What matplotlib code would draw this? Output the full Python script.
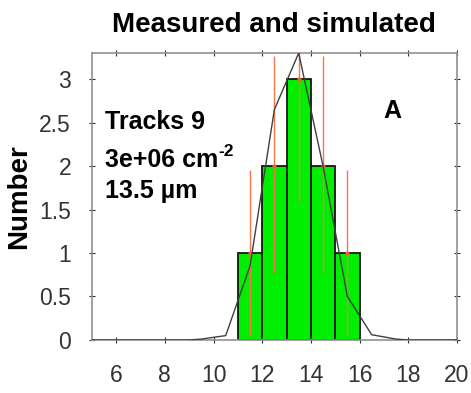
import matplotlib
matplotlib.use("Agg")
import matplotlib.pyplot as plt
import numpy as np

plt.rcParams['font.family'] = ['Liberation Sans', 'DejaVu Sans']

# measured histogram (bin edges and counts)
bin_edges = [11, 12, 13, 14, 15, 16]
counts = [1, 2, 3, 2, 1]
# error bars (lower, upper) at bin centres
err_low = [0.05, 0.77, 1.59, 0.77, 0.05]
err_high = [1.96, 3.27, 4.41, 3.27, 1.96]

# simulated curve
sim_x = [5, 6, 7, 8, 9, 9.5, 10.5, 11.5, 12.5, 13.5, 14.5, 15.5, 16.5, 17.5, 18, 19, 20]
sim_y = [0, 0, 0, 0, 0, 0.01, 0.05, 0.85, 2.65, 3.3, 2.0, 0.5, 0.06, 0.01, 0, 0, 0]

fig = plt.figure(figsize=(4.71, 3.93), dpi=100)
ax = fig.add_axes([0.195, 0.135, 0.775, 0.73])

edges = np.array(bin_edges)
centres = (edges[:-1] + edges[1:]) / 2
widths = np.diff(edges)
ax.bar(edges[:-1], counts, width=widths, align='edge', color='#00ee00',
       edgecolor='#151515', linewidth=1.3, zorder=2)

ax.vlines(centres, err_low, err_high, color='#f4764a', linewidth=1.0, zorder=3)
ax.plot(centres, counts, 'o', color='#f06030', markersize=2, zorder=3)

ax.plot(sim_x, sim_y, color='#404040', linewidth=1.0, zorder=4)

ax.set_xlim(5, 20)
ax.set_ylim(0, 3.3)
ax.set_xticks(np.arange(6, 21, 2))
ax.set_yticks(np.arange(0, 3.01, 0.5))
ax.set_yticklabels(['0', '0.5', '1', '1.5', '2', '2.5', '3'])
ax.tick_params(axis='x', pad=15)
ax.tick_params(axis='y', pad=13)
ax.tick_params(direction='inout', top=True, right=True, labelsize=16.5, length=4,
               color='#303030', labelcolor='#333333')
for s in ax.spines.values():
    s.set_color('#909090')
    s.set_linewidth(1.2)

ax.set_title('Measured and simulated', fontsize=20, fontweight='bold', pad=15)
ax.set_ylabel('Number', fontsize=20, fontweight='bold', labelpad=5)

txt = dict(transform=ax.transAxes, fontsize=18, fontweight='bold', va='baseline')
ax.text(0.036, 0.735, 'Tracks 9', **txt)
t = ax.text(0.036, 0.603, '3e+06 cm', **txt)
ax.annotate('-2', xy=(1, 0.55), xycoords=t, va='bottom', ha='left',
            fontsize=12.5, fontweight='bold')
ax.text(0.036, 0.495, '13.5 \u00b5m', **txt)
ax.text(0.80, 0.775, 'A', **txt)

fig.savefig('out.png', dpi=100)
